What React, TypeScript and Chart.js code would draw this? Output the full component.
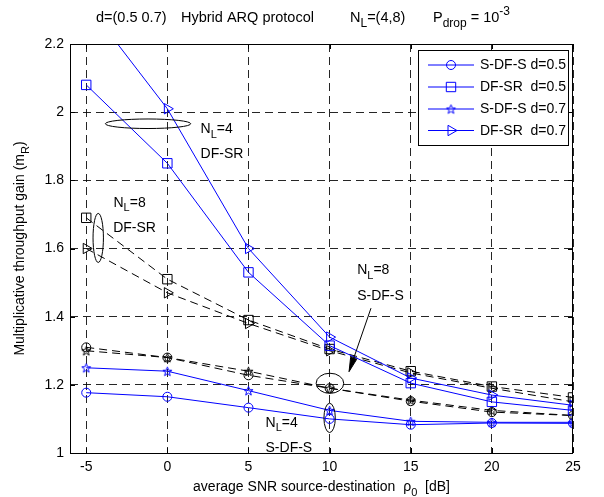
import React, { useEffect, useRef } from 'react';
import { Chart, registerables } from 'chart.js';

Chart.register(...registerables);

// ---------- data ----------
const snr = [-5, 0, 5, 10, 15, 20, 25];
const xTicks = [-5, 0, 5, 10, 15, 20, 25];
const yTicks = [1, 1.2, 1.4, 1.6, 1.8, 2, 2.2];

// N_L = 4 (blue, solid)
const sdfs05_NL4 = [1.177, 1.165, 1.133, 1.1, 1.083, 1.088, 1.087];
const dfsr05_NL4 = [2.08, 1.85, 1.53, 1.315, 1.205, 1.15, 1.125];
const sdfs07_NL4 = [1.25, 1.24, 1.183, 1.125, 1.093, 1.09, 1.09];
const dfsr07_NL4 = [2.32, 2.01, 1.6, 1.34, 1.22, 1.17, 1.14];

// N_L = 8 (black, dashed)
const sdfs05_NL8 = [1.31, 1.28, 1.228, 1.19, 1.152, 1.12, 1.11];
const dfsr05_NL8 = [1.69, 1.51, 1.39, 1.305, 1.24, 1.195, 1.163];
const sdfs07_NL8 = [1.3, 1.28, 1.24, 1.19, 1.155, 1.125, 1.11];
const dfsr07_NL8 = [1.6, 1.47, 1.38, 1.3, 1.235, 1.19, 1.15];

const legendLabels = ['S-DF-S d=0.5', 'DF-SR  d=0.5', 'S-DF-S d=0.7', 'DF-SR  d=0.7'];

// ---------- layout / style ----------
const FONT = '"Liberation Sans", Arial, Helvetica, sans-serif';
const FS = 14;
const TFS = 14.5;
const BLUE = '#0000ff';
const W = 604;
const H = 497;
const AREA = { left: 70, top: 44, right: 573, bottom: 453 };

type Seg = { t: string; k?: 'sub' | 'sup' };

const titleGroups: { x: number; segs: Seg[] }[] = [
  { x: 96, segs: [{ t: 'd=(0.5 0.7)' }] },
  { x: 181, segs: [{ t: 'Hybrid ARQ protocol' }] },
  { x: 350, segs: [{ t: 'N' }, { t: 'L', k: 'sub' }, { t: '=(4,8)' }] },
  { x: 433, segs: [{ t: 'P' }, { t: 'drop', k: 'sub' }, { t: ' = 10' }, { t: '-3', k: 'sup' }] },
];
const xTitleSegs: Seg[] = [
  { t: 'average SNR source-destination  ' }, { t: 'ρ' }, { t: '0', k: 'sub' }, { t: '  [dB]' },
];
const yTitleSegs: Seg[] = [
  { t: 'Multiplicative throughput gain (m' }, { t: 'R', k: 'sub' }, { t: ')' },
];
const NL4: Seg[] = [{ t: 'N' }, { t: 'L', k: 'sub' }, { t: '=4' }];
const NL8: Seg[] = [{ t: 'N' }, { t: 'L', k: 'sub' }, { t: '=8' }];

// annotation positions in data units
const notes: { x: number; y: number; segs: Seg[] }[] = [
  { x: 2.05, y: 1.939, segs: NL4 },
  { x: 2.05, y: 1.866, segs: [{ t: 'DF-SR' }] },
  { x: -3.32, y: 1.723, segs: NL8 },
  { x: -3.34, y: 1.649, segs: [{ t: 'DF-SR' }] },
  { x: 11.7, y: 1.525, segs: NL8 },
  { x: 11.7, y: 1.449, segs: [{ t: 'S-DF-S' }] },
  { x: 6.05, y: 1.077, segs: NL4 },
  { x: 6.05, y: 1.003, segs: [{ t: 'S-DF-S' }] },
];
// [cx, cy, width(dB), height(value)]
const ellipses = [
  [-1.19, 1.966, 5.26, 0.028],
  [-4.26, 1.631, 0.64, 0.144],
  [10.02, 1.2045, 1.7, 0.059],
  [10.0, 1.103, 0.7, 0.086],
];
const arrow = { x1: 12.55, y1: 1.425, x2: 11.2, y2: 1.239 };

// ---------- helpers ----------
function segFont(s: Seg, size: number) {
  const sz = s.k ? Math.round(size * 0.8) : size;
  return `${sz}px ${FONT}`;
}
function segDy(s: Seg, size: number) {
  if (s.k === 'sub') return size * 0.33;
  if (s.k === 'sup') return -size * 0.45;
  return 0;
}
function drawRich(ctx: CanvasRenderingContext2D, segs: Seg[], x: number, y: number, align: 'left' | 'center', size = FS) {
  let w = 0;
  for (const s of segs) {
    ctx.font = segFont(s, size);
    w += ctx.measureText(s.t).width;
  }
  let cx = align === 'center' ? x - w / 2 : x;
  ctx.textAlign = 'left';
  ctx.textBaseline = 'alphabetic';
  for (const s of segs) {
    ctx.font = segFont(s, size);
    ctx.fillText(s.t, cx, y + segDy(s, size));
    cx += ctx.measureText(s.t).width;
  }
}

function makeStar(color: string) {
  const c = document.createElement('canvas');
  const s = 13;
  c.width = s;
  c.height = s;
  const g = c.getContext('2d')!;
  g.strokeStyle = color;
  g.lineWidth = 1;
  g.beginPath();
  for (let i = 0; i < 10; i++) {
    const r = i % 2 === 0 ? 4.8 : 2.0;
    const a = -Math.PI / 2 + (i * Math.PI) / 5;
    const px = s / 2 + r * Math.cos(a);
    const py = s / 2 + 0.5 + r * Math.sin(a);
    if (i === 0) g.moveTo(px, py);
    else g.lineTo(px, py);
  }
  g.closePath();
  g.stroke();
  return c;
}

function drawMarker(ctx: CanvasRenderingContext2D, kind: string, x: number, y: number, color: string, star: HTMLCanvasElement) {
  ctx.save();
  ctx.strokeStyle = color;
  ctx.lineWidth = 1;
  ctx.setLineDash([]);
  ctx.beginPath();
  if (kind === 'circle') {
    ctx.arc(x, y, 4.5, 0, Math.PI * 2);
    ctx.stroke();
  } else if (kind === 'rect') {
    ctx.rect(x - 4.7, y - 4.7, 9.4, 9.4);
    ctx.stroke();
  } else if (kind === 'triangle') {
    const r = 6;
    for (let i = 0; i < 3; i++) {
      const a = Math.PI / 2 + (i * 2 * Math.PI) / 3;
      const px = x + Math.sin(a) * r;
      const py = y - Math.cos(a) * r;
      if (i === 0) ctx.moveTo(px, py);
      else ctx.lineTo(px, py);
    }
    ctx.closePath();
    ctx.stroke();
  } else {
    ctx.drawImage(star, x - star.width / 2, y - star.height / 2);
  }
  ctx.restore();
}

export default function App() {
  const ref = useRef<HTMLCanvasElement>(null);

  useEffect(() => {
    const canvas = ref.current!;
    const starBlue = makeStar(BLUE);
    const starBlack = makeStar('#000000');
    const kinds = ['circle', 'rect', 'star', 'triangle'];

    const specs = [
      { label: legendLabels[0], data: sdfs05_NL4, color: BLUE, dash: [] as number[], kind: 'circle' },
      { label: legendLabels[1], data: dfsr05_NL4, color: BLUE, dash: [] as number[], kind: 'rect' },
      { label: legendLabels[2], data: sdfs07_NL4, color: BLUE, dash: [] as number[], kind: 'star' },
      { label: legendLabels[3], data: dfsr07_NL4, color: BLUE, dash: [] as number[], kind: 'triangle' },
      { label: 'S-DF-S d=0.5 NL8', data: sdfs05_NL8, color: '#000000', dash: [8, 5], kind: 'circle' },
      { label: 'DF-SR d=0.5 NL8', data: dfsr05_NL8, color: '#000000', dash: [8, 5], kind: 'rect' },
      { label: 'S-DF-S d=0.7 NL8', data: sdfs07_NL8, color: '#000000', dash: [8, 5], kind: 'star' },
      { label: 'DF-SR d=0.7 NL8', data: dfsr07_NL8, color: '#000000', dash: [8, 5], kind: 'triangle' },
    ];

    const datasets = specs.map((s) => ({
      label: s.label,
      data: snr.map((x, i) => ({ x, y: s.data[i] })),
      borderColor: s.color,
      backgroundColor: 'transparent',
      borderWidth: 1,
      borderDash: s.dash,
      tension: 0,
      pointStyle: (s.kind === 'star' ? (s.color === BLUE ? starBlue : starBlack) : s.kind) as any,
      pointRadius: s.kind === 'circle' ? 4.5 : s.kind === 'rect' ? 6.65 : 6,
      pointRotation: s.kind === 'triangle' ? 90 : 0,
      pointBorderColor: s.color,
      pointBackgroundColor: 'transparent',
      pointBorderWidth: 1,
      pointHoverRadius: 0,
    }));

    const decor = {
      id: 'decor',
      afterDatasetsDraw(chart: any) {
        const ctx: CanvasRenderingContext2D = chart.ctx;
        const xs = chart.scales.x;
        const ys = chart.scales.y;
        const ca = chart.chartArea;
        ctx.save();
        // ellipses
        ctx.strokeStyle = '#000';
        ctx.lineWidth = 1;
        ctx.setLineDash([]);
        for (const [cx, cy, w, h] of ellipses) {
          const px = xs.getPixelForValue(cx);
          const py = ys.getPixelForValue(cy);
          const rx = Math.abs(xs.getPixelForValue(cx + w / 2) - px);
          const ry = Math.abs(ys.getPixelForValue(cy + h / 2) - py);
          ctx.beginPath();
          ctx.ellipse(px, py, rx, ry, 0, 0, Math.PI * 2);
          ctx.stroke();
        }
        // arrow
        const ax1 = xs.getPixelForValue(arrow.x1);
        const ay1 = ys.getPixelForValue(arrow.y1);
        const ax2 = xs.getPixelForValue(arrow.x2);
        const ay2 = ys.getPixelForValue(arrow.y2);
        ctx.beginPath();
        ctx.moveTo(ax1, ay1);
        ctx.lineTo(ax2, ay2);
        ctx.stroke();
        const ang = Math.atan2(ay2 - ay1, ax2 - ax1);
        const hl = 14;
        const hw = 3.2;
        const bx = ax2 - Math.cos(ang) * hl;
        const by = ay2 - Math.sin(ang) * hl;
        ctx.beginPath();
        ctx.moveTo(ax2, ay2);
        ctx.lineTo(bx - Math.sin(ang) * hw, by + Math.cos(ang) * hw);
        ctx.lineTo(bx + Math.sin(ang) * hw, by - Math.cos(ang) * hw);
        ctx.closePath();
        ctx.fillStyle = '#000';
        ctx.fill();
        ctx.stroke();
        // notes
        ctx.fillStyle = '#000';
        for (const n of notes) {
          drawRich(ctx, n.segs, xs.getPixelForValue(n.x), ys.getPixelForValue(n.y), 'left');
        }
        // frame
        ctx.strokeStyle = '#000';
        ctx.lineWidth = 1;
        ctx.strokeRect(Math.round(ca.left) + 0.5, Math.round(ca.top) + 0.5, Math.round(ca.right - ca.left) - 1, Math.round(ca.bottom - ca.top));
        // inward ticks
        ctx.beginPath();
        for (const v of xTicks) {
          const p = Math.round(xs.getPixelForValue(v)) + 0.5;
          ctx.moveTo(p, ca.top);
          ctx.lineTo(p, ca.top + 5);
          ctx.moveTo(p, ca.bottom);
          ctx.lineTo(p, ca.bottom - 5);
        }
        for (const v of yTicks) {
          const p = Math.round(ys.getPixelForValue(v)) + 0.5;
          ctx.moveTo(ca.left, p);
          ctx.lineTo(ca.left + 5, p);
          ctx.moveTo(ca.right, p);
          ctx.lineTo(ca.right - 5, p);
        }
        ctx.stroke();

        // legend
        const lx = 418.5;
        const ly = 50.5;
        const lw = 150;
        const lh = 95;
        ctx.fillStyle = '#fff';
        ctx.fillRect(lx, ly, lw, lh);
        ctx.strokeStyle = '#000';
        ctx.strokeRect(lx, ly, lw, lh);
        const rows = [64.5, 86.5, 108.5, 130];
        for (let i = 0; i < 4; i++) {
          const yy = rows[i];
          ctx.strokeStyle = BLUE;
          ctx.beginPath();
          ctx.moveTo(428, yy + 0.5);
          ctx.lineTo(474, yy + 0.5);
          ctx.stroke();
          drawMarker(ctx, kinds[i], 451, yy + 0.5, BLUE, starBlue);
          ctx.fillStyle = '#000';
          ctx.font = `${FS}px ${FONT}`;
          ctx.textAlign = 'left';
          ctx.textBaseline = 'middle';
          ctx.fillText(legendLabels[i], 480, yy + 1);
        }
        ctx.restore();
      },
      afterDraw(chart: any) {
        const ctx: CanvasRenderingContext2D = chart.ctx;
        const ca = chart.chartArea;
        const cx = (ca.left + ca.right) / 2;
        ctx.save();
        ctx.fillStyle = '#000';
        for (const g of titleGroups) drawRich(ctx, g.segs, g.x, 22, 'left', TFS);
        drawRich(ctx, xTitleSegs, cx, 491, 'center');
        ctx.translate(24, (ca.top + ca.bottom) / 2);
        ctx.rotate(-Math.PI / 2);
        drawRich(ctx, yTitleSegs, 0, 0, 'center');
        ctx.restore();
      },
    };

    const chart = new Chart(canvas, {
      type: 'line',
      data: { datasets: datasets as any },
      options: {
        responsive: false,
        animation: false,
        devicePixelRatio: 1,
        layout: { padding: { left: 0, top: AREA.top, right: W - AREA.right, bottom: 0 } },
        plugins: { legend: { display: false }, tooltip: { enabled: false }, title: { display: false } },
        events: [],
        scales: {
          x: {
            type: 'linear',
            min: -6,
            max: 25,
            afterBuildTicks: (s: any) => {
              s.ticks = xTicks.map((v) => ({ value: v }));
            },
            afterFit: (s: any) => {
              s.height = H - AREA.bottom;
            },
            grid: { color: 'rgba(0,0,0,0.85)', lineWidth: 1, drawTicks: false },
            border: { display: false, dash: [8, 5] },
            ticks: {
              color: '#000',
              font: { family: FONT, size: FS },
              padding: 6,
              maxRotation: 0,
              autoSkip: false,
              callback: (v: any) => String(v),
            },
          },
          y: {
            type: 'linear',
            min: 1,
            max: 2.2,
            afterBuildTicks: (s: any) => {
              s.ticks = yTicks.map((v) => ({ value: v }));
            },
            afterFit: (s: any) => {
              s.width = AREA.left;
            },
            grid: { color: 'rgba(0,0,0,0.85)', lineWidth: 1, drawTicks: false },
            border: { display: false, dash: [8, 5] },
            ticks: {
              color: '#000',
              font: { family: FONT, size: FS },
              padding: 6,
              autoSkip: false,
              callback: (v: any) => String(Math.round(Number(v) * 10) / 10),
            },
          },
        },
      },
      plugins: [decor],
    });

    return () => chart.destroy();
  }, []);

  return (
    <div style={{ position: 'fixed', left: 0, top: 0, width: W, height: H, background: '#fff' }}>
      <canvas ref={ref} width={W} height={H} style={{ width: W, height: H, display: 'block' }} />
    </div>
  );
}
